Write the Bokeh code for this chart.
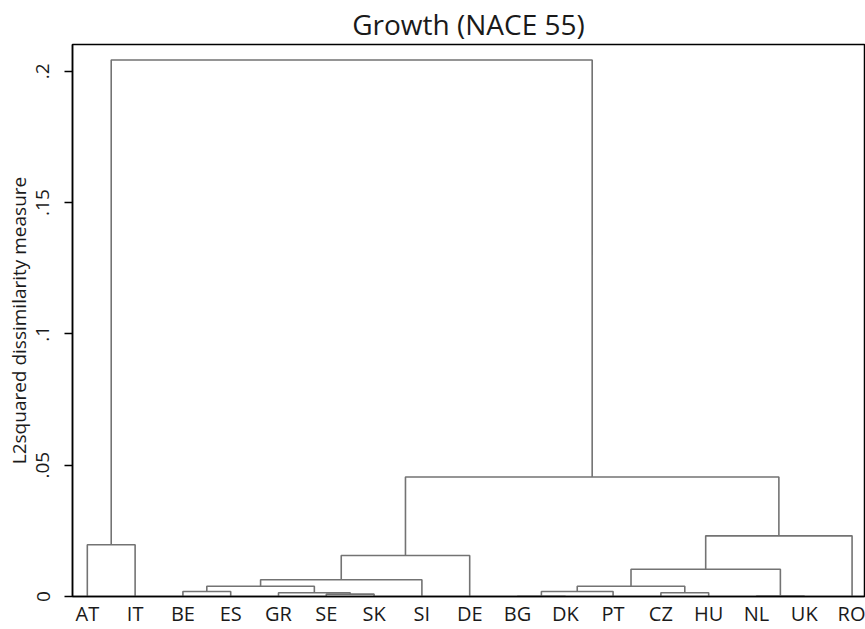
from bokeh.plotting import figure
from bokeh.models import FixedTicker, Range1d
from bokeh.embed import file_html
from bokeh.resources import INLINE

title_text = "Growth (NACE 55)"
y_label = "L2squared dissimilarity measure"

# leaf order along the bottom axis
leaves = ["AT", "IT", "BE", "ES", "GR", "SE", "SK", "SI", "DE",
          "BG", "DK", "PT", "CZ", "HU", "NL", "UK", "RO"]

# merges: children are leaf names or "#k" = result of merge k
merge_a = ["SE", "BG", "NL", "CZ", "GR", "BE", "#1", "#5", "#6",
           "#7", "#8", "#9", "#10", "AT", "#11", "#13"]
merge_b = ["SK", "DK", "UK", "HU", "#0", "ES", "PT", "#4", "#3",
           "SI", "#2", "DE", "RO", "IT", "#12", "#14"]
merge_h = [0.0009, 0.0001, 0.0002, 0.0014, 0.0014, 0.0019, 0.0019, 0.0039, 0.0039,
           0.0064, 0.0104, 0.0156, 0.0231, 0.0197, 0.0455, 0.2043]

ytick_values = [0, 0.05, 0.1, 0.15, 0.2]
ytick_labels = ["0", ".05", ".1", ".15", ".2"]

FONT = "Open Sans"
LINE_COLOR = "#737373"
TEXT_COLOR = "#1a1a1a"

leaf_x = {name: i + 1 for i, name in enumerate(leaves)}
node_pos = {}

def pos(ref):
    if ref.startswith("#"):
        return node_pos[int(ref[1:])]
    return (leaf_x[ref], 0.0)

xs, ys = [], []
for k, (a, b, h) in enumerate(zip(merge_a, merge_b, merge_h)):
    xa, ya = pos(a)
    xb, yb = pos(b)
    xs.append([xa, xa, xb, xb])
    ys.append([ya, h, h, yb])
    node_pos[k] = ((xa + xb) / 2.0, h)

p = figure(width=865, height=629, output_backend="svg", toolbar_location=None,
           x_range=Range1d(0.69, 17.26), y_range=Range1d(0, 0.2102),
           min_border_left=72, min_border_right=1, min_border_top=44,
           min_border_bottom=30)

p.multi_line(xs, ys, line_color=LINE_COLOR, line_width=1.6)

p.title.text = title_text
p.title.align = "center"
p.title.vertical_align = "middle"
p.title.standoff = 2
p.title.text_font = FONT
p.title.text_font_size = "28px"
p.title.text_font_style = "normal"
p.title.text_color = TEXT_COLOR

p.grid.visible = False
p.outline_line_color = "black"
p.outline_line_width = 1.5

xa_ = p.xaxis[0]
xa_.ticker = FixedTicker(ticks=list(range(1, len(leaves) + 1)))
xa_.major_label_overrides = {i + 1: n for i, n in enumerate(leaves)}
xa_.major_tick_line_color = None
xa_.major_tick_out = 0
xa_.major_tick_in = 0
xa_.minor_tick_line_color = None
xa_.axis_line_color = "black"
xa_.axis_line_width = 1.5
xa_.major_label_text_font = FONT
xa_.major_label_text_font_size = "20px"
xa_.major_label_text_color = TEXT_COLOR
xa_.major_label_standoff = 3

ya_ = p.yaxis[0]
ya_.ticker = FixedTicker(ticks=ytick_values)
ya_.major_label_overrides = dict(zip(ytick_values, ytick_labels))
ya_.major_label_orientation = "parallel"
ya_.minor_tick_line_color = None
ya_.major_tick_out = 8
ya_.major_tick_in = 0
ya_.major_tick_line_width = 1.5
ya_.axis_line_color = "black"
ya_.axis_line_width = 1.5
ya_.major_label_text_font = FONT
ya_.major_label_text_font_size = "19px"
ya_.major_label_text_color = TEXT_COLOR
ya_.major_label_standoff = 15
ya_.axis_label = y_label
ya_.axis_label_text_font = FONT
ya_.axis_label_text_font_size = "19px"
ya_.axis_label_text_font_style = "normal"
ya_.axis_label_text_color = TEXT_COLOR
ya_.axis_label_standoff = 2

open("out.html", "w").write(file_html(p, INLINE))
